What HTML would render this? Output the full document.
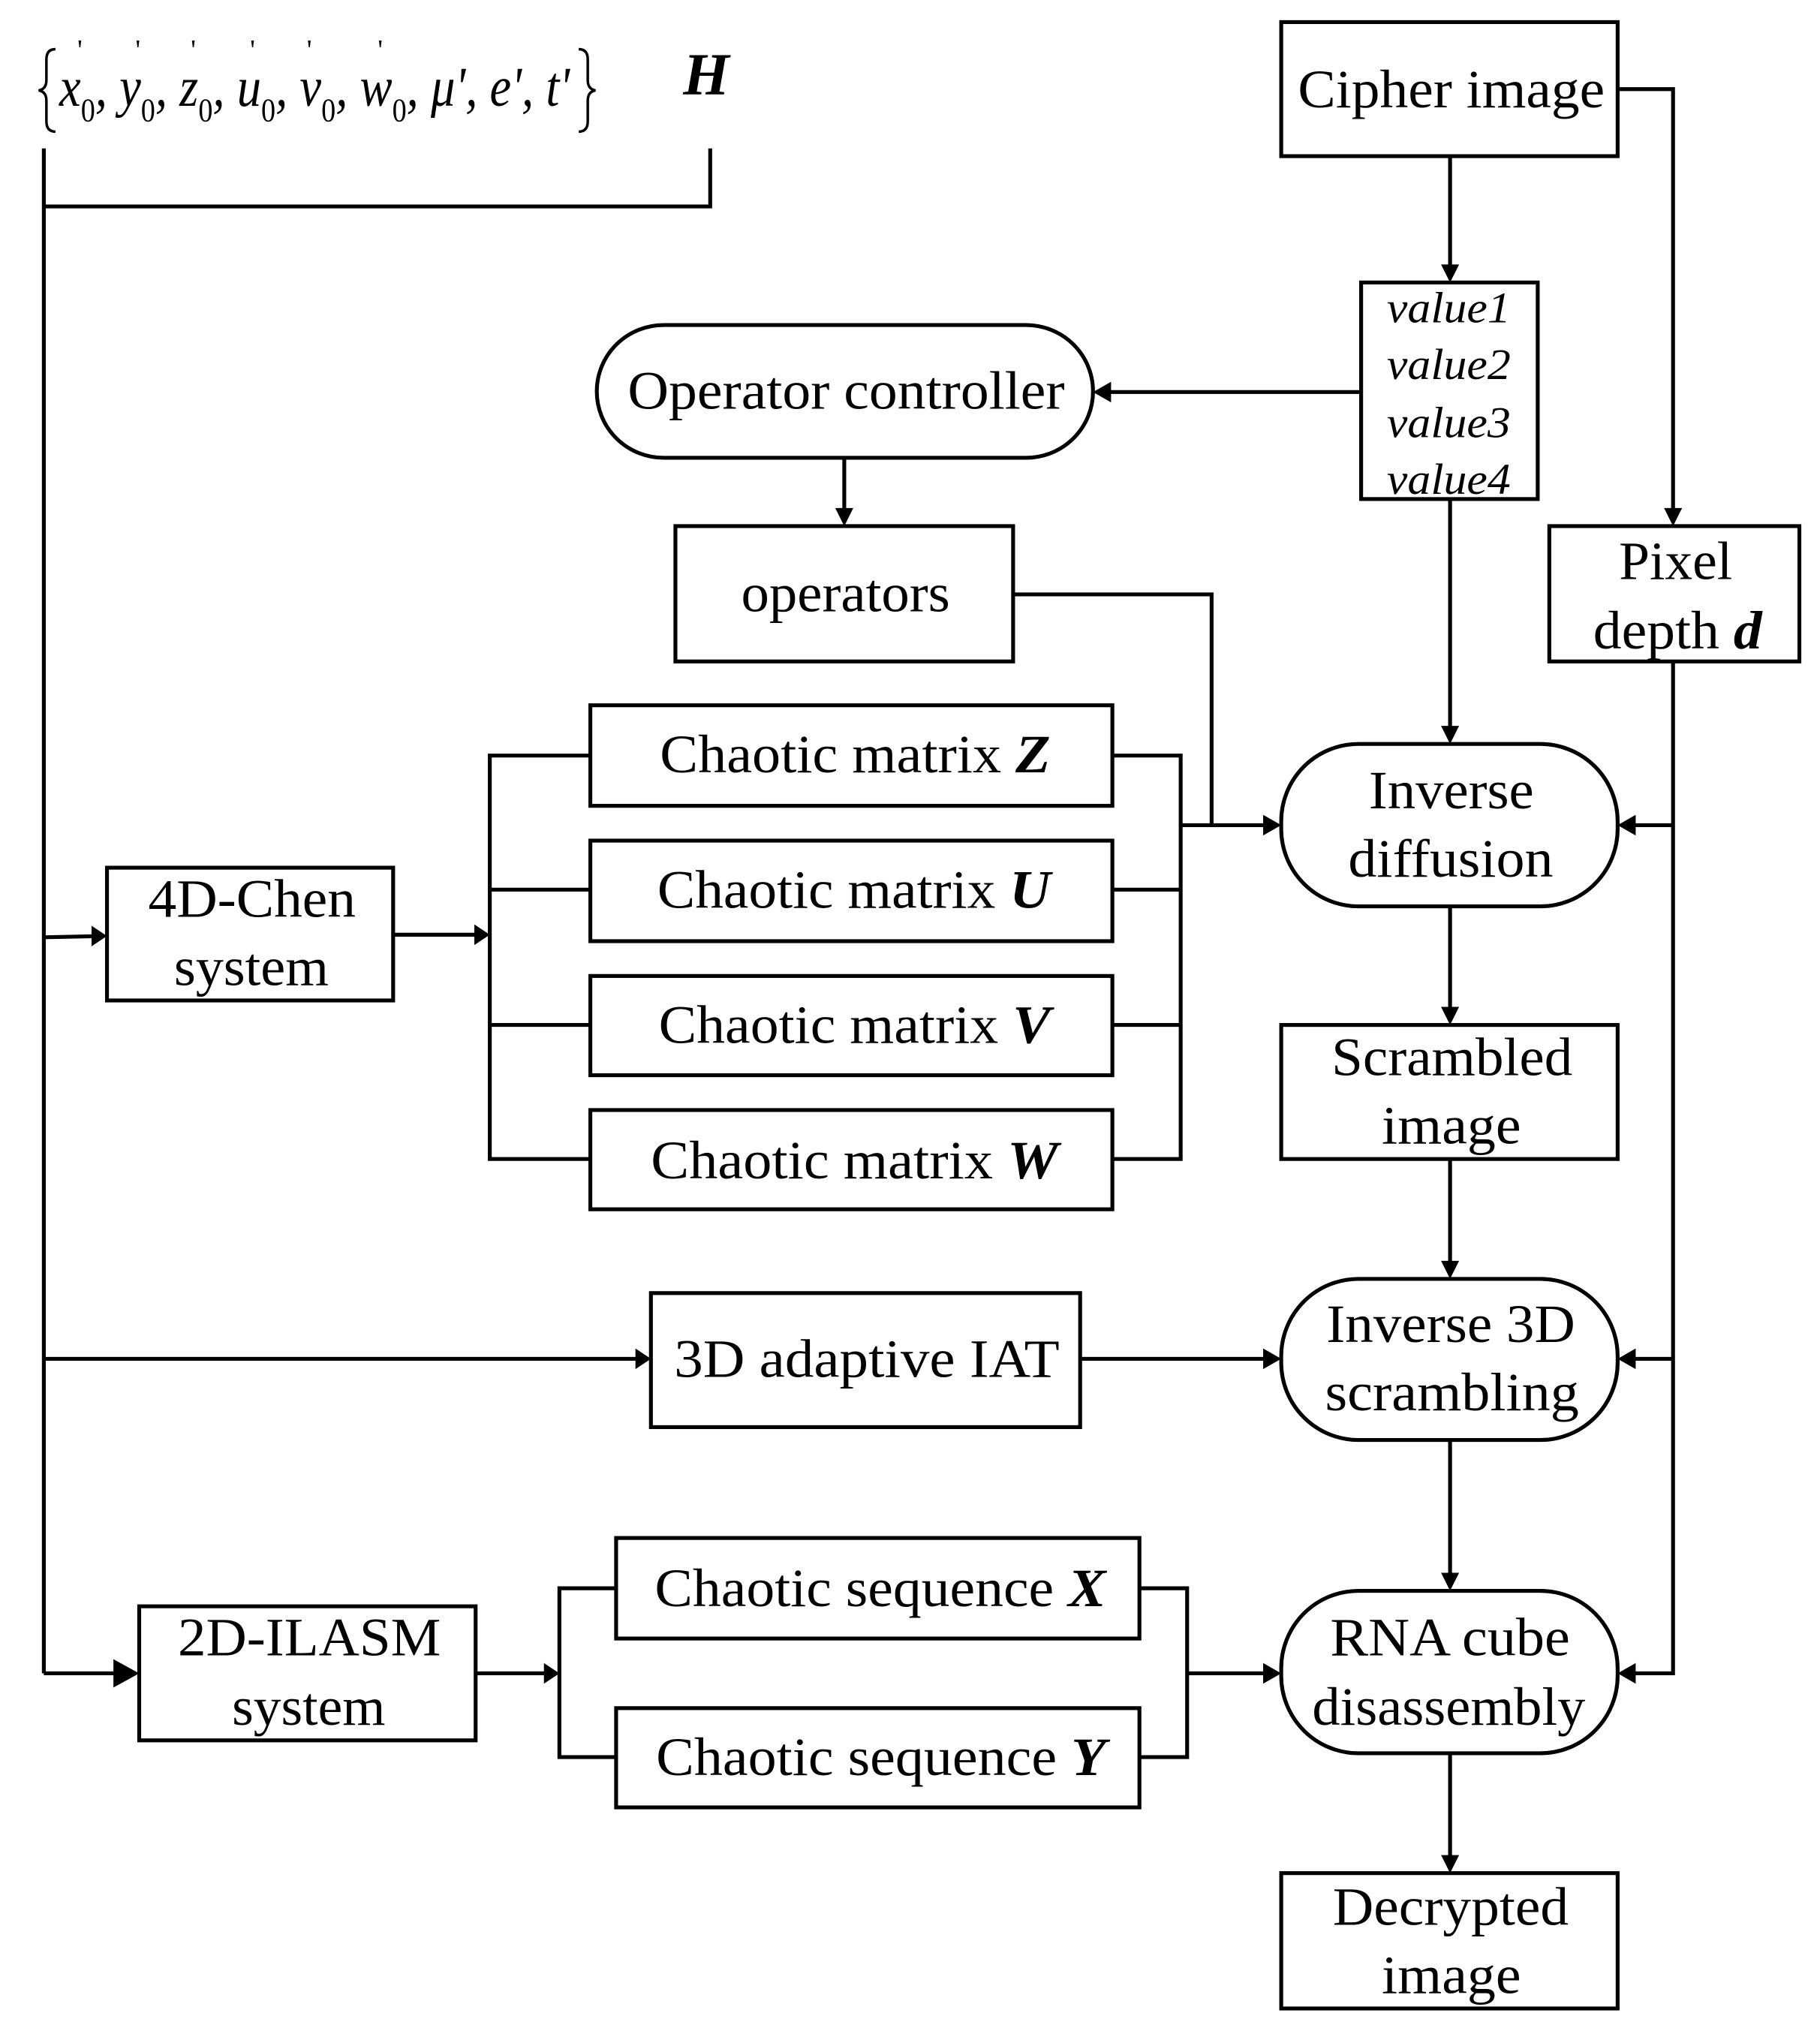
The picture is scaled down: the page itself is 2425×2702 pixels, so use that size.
<!DOCTYPE html>
<html><head><meta charset="utf-8"><style>
html,body{margin:0;padding:0;background:#fff;}
svg{display:block;}
text{font-family:"Liberation Serif",serif;fill:#000;}
</style></head><body>
<svg width="2425" height="2702" viewBox="0 0 1412 1573" xmlns="http://www.w3.org/2000/svg">
<g fill="none" stroke="#000" stroke-width="3">
<polyline points="34,115 34,1298"/>
<polyline points="34,160 551,160 551,115"/>
<rect x="994" y="17" width="261" height="104"/>
<rect x="1056" y="219" width="137" height="168"/>
<rect x="463" y="252" width="385" height="103" rx="52"/>
<rect x="524" y="408" width="262" height="105"/>
<rect x="1202" y="408" width="194" height="105"/>
<rect x="994" y="577" width="261" height="126" rx="60"/>
<rect x="458" y="547" width="405" height="78"/>
<rect x="458" y="652" width="405" height="78"/>
<rect x="458" y="757" width="405" height="77"/>
<rect x="458" y="861" width="405" height="77"/>
<rect x="83" y="673" width="222" height="103"/>
<rect x="994" y="795" width="261" height="104"/>
<rect x="994" y="992" width="261" height="125" rx="60"/>
<rect x="505" y="1003" width="333" height="104"/>
<rect x="994" y="1234" width="261" height="126" rx="60"/>
<rect x="108" y="1246" width="261" height="104"/>
<rect x="478" y="1193" width="406" height="78"/>
<rect x="478" y="1325" width="406" height="77"/>
<rect x="994" y="1453" width="261" height="105"/>
<polyline points="1255,69 1298,69 1298,405"/>
<polyline points="1298,513 1298,1298 1258,1298"/>
<polyline points="1125,121 1125,216"/>
<polyline points="1056,304 851,304"/>
<polyline points="655,355 655,405"/>
<polyline points="786,461 940,461 940,640"/>
<polyline points="1125,387 1125,574"/>
<polyline points="1298,640 1258,640"/>
<polyline points="1298,1054 1258,1054"/>
<polyline points="458,586 380,586 380,899 458,899"/>
<polyline points="380,690 458,690"/>
<polyline points="380,795 458,795"/>
<polyline points="863,586 916,586 916,899 863,899"/>
<polyline points="863,690 916,690"/>
<polyline points="863,795 916,795"/>
<polyline points="916,640 991,640"/>
<polyline points="34,727 80,726"/>
<polyline points="305,725 377,725"/>
<polyline points="1125,703 1125,792"/>
<polyline points="1125,899 1125,989"/>
<polyline points="34,1054 502,1054"/>
<polyline points="838,1054 991,1054"/>
<polyline points="1125,1117 1125,1231"/>
<polyline points="34,1298 105,1298"/>
<polyline points="369,1298 431,1298"/>
<polyline points="478,1232 434,1232 434,1363 478,1363"/>
<polyline points="884,1232 921,1232 921,1363 884,1363"/>
<polyline points="921,1298 991,1298"/>
<polyline points="1125,1360 1125,1450"/>
</g>
<g fill="none" stroke="#000" stroke-width="2">
<path d="M43,38 Q36,38 36,46 L36,62 Q36,69 30,70 Q36,71 36,78 L36,94 Q36,102 43,102"/>
<path d="M449,38 Q456,38 456,46 L456,62 Q456,69 462,70 Q456,71 456,78 L456,94 Q456,102 449,102"/>
</g>
<g fill="#000">
<path d="M1298,408 l-7,-14 l14,0 z"/>
<path d="M1125,219 l-7,-14 l14,0 z"/>
<path d="M848,304 l14,-8 l0,16 z"/>
<path d="M655,408 l-7,-14 l14,0 z"/>
<path d="M1125,577 l-7,-14 l14,0 z"/>
<path d="M1255,640 l14,-8 l0,16 z"/>
<path d="M1255,1054 l14,-8 l0,16 z"/>
<path d="M1255,1298 l14,-8 l0,16 z"/>
<path d="M994,640 l-14,-8 l0,16 z"/>
<path d="M83,726 l-12,-8 l0,16 z"/>
<path d="M380,725 l-12,-8 l0,16 z"/>
<path d="M1125,795 l-7,-14 l14,0 z"/>
<path d="M1125,992 l-7,-14 l14,0 z"/>
<path d="M505,1054 l-12,-8 l0,16 z"/>
<path d="M994,1054 l-14,-8 l0,16 z"/>
<path d="M1125,1234 l-7,-14 l14,0 z"/>
<path d="M108,1298 l-20,-11 l0,22 z"/>
<path d="M434,1298 l-12,-8 l0,16 z"/>
<path d="M994,1298 l-14,-8 l0,16 z"/>
<path d="M1125,1453 l-7,-14 l14,0 z"/>
</g>
<g font-size="42">
<text x="1007" y="83" textLength="238" lengthAdjust="spacingAndGlyphs">Cipher image</text>
<text x="487" y="317" textLength="339" lengthAdjust="spacingAndGlyphs">Operator controller</text>
<text x="575" y="474" textLength="162" lengthAdjust="spacingAndGlyphs">operators</text>
<text x="1256" y="449" textLength="88" lengthAdjust="spacingAndGlyphs">Pixel</text>
<text x="1236" y="503" textLength="131" lengthAdjust="spacingAndGlyphs">depth <tspan font-weight="bold" font-style="italic">d</tspan></text>
<text x="1062" y="627" textLength="128" lengthAdjust="spacingAndGlyphs">Inverse</text>
<text x="1046" y="680" textLength="159" lengthAdjust="spacingAndGlyphs">diffusion</text>
<text x="512" y="599" textLength="303" lengthAdjust="spacingAndGlyphs">Chaotic matrix <tspan font-weight="bold" font-style="italic">Z</tspan></text>
<text x="510" y="704" textLength="305" lengthAdjust="spacingAndGlyphs">Chaotic matrix <tspan font-weight="bold" font-style="italic">U</tspan></text>
<text x="511" y="809" textLength="304" lengthAdjust="spacingAndGlyphs">Chaotic matrix <tspan font-weight="bold" font-style="italic">V</tspan></text>
<text x="505" y="914" textLength="316" lengthAdjust="spacingAndGlyphs">Chaotic matrix <tspan font-weight="bold" font-style="italic">W</tspan></text>
<text x="115" y="711" textLength="161" lengthAdjust="spacingAndGlyphs">4D-Chen</text>
<text x="135" y="764" textLength="120" lengthAdjust="spacingAndGlyphs">system</text>
<text x="1033" y="834" textLength="187" lengthAdjust="spacingAndGlyphs">Scrambled</text>
<text x="1072" y="887" textLength="108" lengthAdjust="spacingAndGlyphs">image</text>
<text x="523" y="1068" textLength="299" lengthAdjust="spacingAndGlyphs">3D adaptive IAT</text>
<text x="1029" y="1041" textLength="193" lengthAdjust="spacingAndGlyphs">Inverse 3D</text>
<text x="1028" y="1094" textLength="197" lengthAdjust="spacingAndGlyphs">scrambling</text>
<text x="508" y="1246" textLength="350" lengthAdjust="spacingAndGlyphs">Chaotic sequence <tspan font-weight="bold" font-style="italic">X</tspan></text>
<text x="509" y="1377" textLength="349" lengthAdjust="spacingAndGlyphs">Chaotic sequence <tspan font-weight="bold" font-style="italic">Y</tspan></text>
<text x="138" y="1284" textLength="204" lengthAdjust="spacingAndGlyphs">2D-ILASM</text>
<text x="180" y="1338" textLength="119" lengthAdjust="spacingAndGlyphs">system</text>
<text x="1032" y="1284" textLength="186" lengthAdjust="spacingAndGlyphs">RNA cube</text>
<text x="1018" y="1338" textLength="212" lengthAdjust="spacingAndGlyphs">disassembly</text>
<text x="1034" y="1493" textLength="183" lengthAdjust="spacingAndGlyphs">Decrypted</text>
<text x="1072" y="1546" textLength="108" lengthAdjust="spacingAndGlyphs">image</text>
</g>
<g font-size="34" font-style="italic">
<text x="1076" y="250" textLength="96" lengthAdjust="spacingAndGlyphs">value1</text>
<text x="1076" y="294" textLength="96" lengthAdjust="spacingAndGlyphs">value2</text>
<text x="1076" y="339" textLength="96" lengthAdjust="spacingAndGlyphs">value3</text>
<text x="1076" y="383" textLength="96" lengthAdjust="spacingAndGlyphs">value4</text>
</g>
<text x="530" y="73" font-size="46" font-weight="bold" font-style="italic">H</text>
<g font-size="44">
<text x="46" y="82" font-style="italic" textLength="396" lengthAdjust="spacingAndGlyphs">x<tspan font-size="26" font-style="normal" dy="12">0</tspan><tspan dy="-12">, y</tspan><tspan font-size="26" font-style="normal" dy="12">0</tspan><tspan dy="-12">, z</tspan><tspan font-size="26" font-style="normal" dy="12">0</tspan><tspan dy="-12">, u</tspan><tspan font-size="26" font-style="normal" dy="12">0</tspan><tspan dy="-12">, v</tspan><tspan font-size="26" font-style="normal" dy="12">0</tspan><tspan dy="-12">, w</tspan><tspan font-size="26" font-style="normal" dy="12">0</tspan><tspan dy="-12">, μ', e', t'</tspan></text>
<text font-size="22" x="60" y="46">'</text>
<text font-size="22" x="105" y="46">'</text>
<text font-size="22" x="148" y="46">'</text>
<text font-size="22" x="194" y="46">'</text>
<text font-size="22" x="238" y="46">'</text>
<text font-size="22" x="293" y="46">'</text>
</g>
</svg>
</body></html>
